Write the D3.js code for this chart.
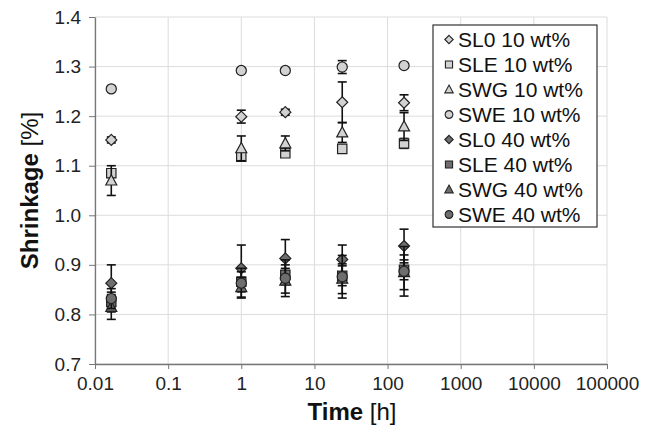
<!DOCTYPE html>
<html><head><meta charset="utf-8">
<script src="https://cdn.jsdelivr.net/npm/d3@7"></script>
<style>body{margin:0;background:#fff;} svg{display:block;font-family:"Liberation Sans",Arial,sans-serif;}</style>
</head><body><svg id="c" width="654" height="436"></svg>
<script>
const times = [0.0167, 1, 4, 24, 168];
const seriesNames = ["SL0 10 wt%","SLE 10 wt%","SWG 10 wt%","SWE 10 wt%","SL0 40 wt%","SLE 40 wt%","SWG 40 wt%","SWE 40 wt%"];
const shapes = ["diamond","square","triangle","circle","diamond","square","triangle","circle"];
const fills = ["#d2d2d2","#d2d2d2","#d2d2d2","#d2d2d2","#6e6e6e","#6e6e6e","#6e6e6e","#6e6e6e"];
const SL0_10 = [1.152, 1.199, 1.208, 1.228, 1.227];
const SLE_10 = [1.085, 1.118, 1.125, 1.134, 1.145];
const SWG_10 = [1.070, 1.135, 1.145, 1.167, 1.179];
const SWE_10 = [1.255, 1.292, 1.292, 1.299, 1.302];
const SL0_40 = [0.863, 0.893, 0.913, 0.911, 0.938];
const SLE_40 = [0.825, 0.866, 0.880, 0.878, 0.890];
const SWG_40 = [0.815, 0.855, 0.868, 0.872, 0.885];
const SWE_40 = [0.832, 0.863, 0.873, 0.876, 0.887];
const SL0_10_err = [0.006, 0.013, 0.006, 0.041, 0.016];
const SLE_10_err = [0.008, 0.008, 0.006, 0.005, 0.010];
const SWG_10_err = [0.030, 0.025, 0.015, 0.020, 0.028];
const SWE_10_err = [0.003, 0.004, 0.004, 0.013, 0.003];
const SL0_40_err = [0.037, 0.047, 0.038, 0.029, 0.034];
const SLE_40_err = [0.020, 0.020, 0.020, 0.020, 0.020];
const SWG_40_err = [0.025, 0.020, 0.025, 0.030, 0.035];
const SWE_40_err = [0.020, 0.030, 0.037, 0.043, 0.050];
const xTicks = [0.01, 0.1, 1, 10, 100, 1000, 10000, 100000];
const xTickLabels = ["0.01","0.1","1","10","100","1000","10000","100000"];
const yTicks = [0.7, 0.8, 0.9, 1.0, 1.1, 1.2, 1.3, 1.4];

const values = [SL0_10, SLE_10, SWG_10, SWE_10, SL0_40, SLE_40, SWG_40, SWE_40];
const errs = [SL0_10_err, SLE_10_err, SWG_10_err, SWE_10_err, SL0_40_err, SLE_40_err, SWG_40_err, SWE_40_err];

const svg = d3.select("#c");
const L = 95, R = 607, T = 17, B = 364;
const x = d3.scaleLog().domain([0.01, 100000]).range([L, R]);
const y = d3.scaleLinear().domain([0.7, 1.4]).range([B, T]);

// grid
svg.append("g").selectAll("line").data(yTicks).join("line")
  .attr("x1", L).attr("x2", R).attr("y1", d => y(d)).attr("y2", d => y(d))
  .attr("stroke", "#dcdcdc").attr("stroke-width", 1);
svg.append("g").selectAll("line").data(xTicks).join("line")
  .attr("x1", d => x(d)).attr("x2", d => x(d)).attr("y1", T).attr("y2", B)
  .attr("stroke", "#dcdcdc").attr("stroke-width", 1);

// axes
const yAxis = d3.axisLeft(y).tickValues(yTicks).tickFormat(d3.format(".1f")).tickSizeInner(6).tickSizeOuter(0).tickPadding(8);
const gy = svg.append("g").attr("transform", `translate(${L},0)`).call(yAxis);
const xAxis = d3.axisBottom(x).tickValues(xTicks).tickFormat((d, i) => xTickLabels[i]).tickSizeInner(5).tickSizeOuter(0).tickPadding(8);
const gx = svg.append("g").attr("transform", `translate(0,${B})`).call(xAxis);
[gx, gy].forEach(g => {
  g.select(".domain").attr("stroke", "#777").attr("stroke-width", 1.3);
  g.selectAll(".tick line").attr("stroke", "#777");
  g.selectAll("text").attr("font-size", 19).attr("fill", "#222").attr("font-family", "Liberation Sans, Arial, sans-serif");
});

// titles
const yt = svg.append("text").attr("transform", `translate(38,${(T + B) / 2}) rotate(-90)`)
  .attr("text-anchor", "middle").attr("font-size", 24).attr("fill", "#111");
yt.append("tspan").attr("font-weight", "bold").text("Shrinkage");
yt.append("tspan").text(" [%]");
const xt = svg.append("text").attr("x", 352).attr("y", 420)
  .attr("text-anchor", "middle").attr("font-size", 24).attr("fill", "#111");
xt.append("tspan").attr("font-weight", "bold").text("Time");
xt.append("tspan").text(" [h]");

function symPath(shape, r) {
  if (shape === "diamond") return `M0,${-r}L${r},0L0,${r}L${-r},0Z`;
  if (shape === "square") return `M${-r * 0.85},${-r * 0.85}h${r * 1.7}v${r * 1.7}h${-r * 1.7}Z`;
  if (shape === "triangle") return `M0,${-r * 1.05}L${r},${r * 0.8}L${-r},${r * 0.8}Z`;
  return d3.symbol().type(d3.symbolCircle).size(Math.PI * r * r * 0.85)();
}
const R0 = 5.5;

// series
values.forEach((vals, si) => {
  const g = svg.append("g");
  vals.forEach((v, i) => {
    const cx = x(times[i]), e = errs[si][i];
    const y1 = y(v - e), y2 = y(v + e);
    g.append("line").attr("x1", cx).attr("x2", cx).attr("y1", y1).attr("y2", y2).attr("stroke", "#111").attr("stroke-width", 1.6);
    [y1, y2].forEach(yy => g.append("line").attr("x1", cx - 4.5).attr("x2", cx + 4.5).attr("y1", yy).attr("y2", yy).attr("stroke", "#111").attr("stroke-width", 1.6));
  });
  g.selectAll("path").data(vals).join("path")
    .attr("transform", (v, i) => `translate(${x(times[i])},${y(v)})`)
    .attr("d", symPath(shapes[si], R0))
    .attr("fill", fills[si]).attr("stroke", "#222").attr("stroke-width", 1.2);
});

// legend
const lg = svg.append("g");
lg.append("rect").attr("x", 433).attr("y", 25).attr("width", 164).attr("height", 202)
  .attr("fill", "#fff").attr("stroke", "#333").attr("stroke-width", 1.2);
seriesNames.forEach((n, i) => {
  const cy = 39.5 + i * 25;
  lg.append("path").attr("transform", `translate(449,${cy})`)
    .attr("d", symPath(shapes[i], 4.2))
    .attr("fill", fills[i]).attr("stroke", "#222").attr("stroke-width", 1.1);
  lg.append("text").attr("x", 458).attr("y", cy).attr("dy", "0.36em")
    .attr("font-size", 21).attr("fill", "#111").text(n);
});
</script></body></html>
